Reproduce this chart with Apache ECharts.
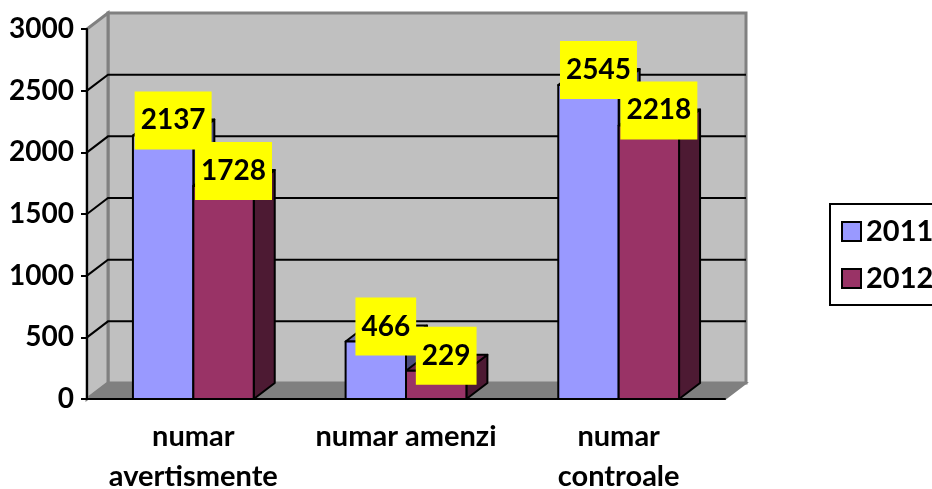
<!DOCTYPE html>
<html>
<head>
<meta charset="utf-8">
<script src="https://cdn.jsdelivr.net/npm/echarts@6/dist/echarts.min.js"></script>
<style>
  html, body { margin: 0; padding: 0; background: #fff; }
  #chart { width: 932px; height: 489px; }
</style>
</head>
<body>
<div id="chart"></div>
<script>
(function () {
  'use strict';

  // data
  var categories = ['numar\navertismente', 'numar amenzi', 'numar\ncontroale'];
  var years = ['2011', '2012'];
  var values2011 = [2137, 466, 2545];
  var values2012 = [1728, 229, 2218];
  var yTicks = [500, 1000, 1500, 2000, 2500];

  // 3d depth offset, in pixels
  var DX = 21, DY = -16;
  var FONT = 'Lato, "Open Sans", sans-serif';

  var colors = {
    '2011': { front: '#9999ff', top: '#6b6bb3', side: '#4d4d80' },
    '2012': { front: '#993366', top: '#6b2447', side: '#4d1a33' }
  };

  function barRender(year, offset) {
    var c = colors[year];
    return function (params, api) {
      var p0 = api.coord([api.value(0), 0]);
      var p1 = api.coord([api.value(0), api.value(1)]);
      var bw = api.size([1, 0])[0] * 0.284;
      var x0 = p0[0] + offset * bw;
      var x1 = x0 + bw;
      var st = { stroke: '#000', lineWidth: 2, lineJoin: 'round' };
      return {
        type: 'group',
        children: [
          { type: 'polygon', shape: { points: [[x1, p1[1]], [x1, p0[1]], [x1 + DX, p0[1] + DY], [x1 + DX, p1[1] + DY]] },
            style: Object.assign({ fill: c.side }, st) },
          { type: 'polygon', shape: { points: [[x0, p1[1]], [x1, p1[1]], [x1 + DX, p1[1] + DY], [x0 + DX, p1[1] + DY]] },
            style: Object.assign({ fill: c.top }, st) },
          { type: 'rect', shape: { x: x0, y: p1[1], width: bw, height: p0[1] - p1[1] },
            style: Object.assign({ fill: c.front }, st) }
        ]
      };
    };
  }

  function labelRender(params, api) {
    var off = api.value(2);
    var p = api.coord([api.value(0), api.value(1)]);
    var bw = api.size([1, 0])[0] * 0.284;
    var cx = p[0] + off * bw + bw / 2 + 10;
    return {
      type: 'text',
      style: {
        x: cx, y: p[1] - 15,
        text: String(api.value(1)),
        align: 'center', verticalAlign: 'middle',
        font: 'bold 28px ' + FONT,
        fill: '#000',
        backgroundColor: '#ffff00',
        padding: [15, 6]
      }
    };
  }

  function wallsRender(params) {
    var cs = params.coordSys;
    var l = cs.x, r = cs.x + cs.width, t = cs.y, b = cs.y + cs.height;
    var gray = '#808080';
    return {
      type: 'group',
      children: [
        { type: 'rect', shape: { x: l + DX, y: t + DY, width: r - l, height: b - t },
          style: { fill: '#c0c0c0', stroke: gray, lineWidth: 3 } },
        { type: 'polygon', shape: { points: [[l, b], [l, t], [l + DX, t + DY], [l + DX, b + DY]] },
          style: { fill: '#c0c0c0', stroke: gray, lineWidth: 3 } },
        { type: 'polygon', shape: { points: [[l, b], [r, b], [r + DX, b + DY], [l + DX, b + DY]] },
          style: { fill: gray, stroke: gray, lineWidth: 2 } }
      ]
    };
  }

  function gridRender(params, api) {
    var cs = params.coordSys;
    var p = api.coord([0, api.value(0)]);
    var l = cs.x, r = cs.x + cs.width, y = p[1];
    return {
      type: 'polyline',
      shape: { points: [[l, y], [l + DX, y + DY], [r + DX, y + DY]] },
      style: { stroke: '#000', lineWidth: 2, fill: null }
    };
  }

  var labelData = [];
  values2011.forEach(function (v, i) { labelData.push([i, v, -1]); });
  values2012.forEach(function (v, i) { labelData.push([i, v, 0]); });

  var chart = echarts.init(document.getElementById('chart'));
  chart.setOption({
    animation: false,
    backgroundColor: '#fff',
    grid: { left: 87, right: 207, top: 29, bottom: 90, containLabel: false, outerBoundsMode: 'none' },
    legend: {
      orient: 'vertical',
      left: 830, top: 204,
      padding: [13, 60, 12, 11],
      itemGap: 18,
      itemWidth: 19, itemHeight: 19,
      borderColor: '#000', borderWidth: 2,
      icon: 'rect',
      textStyle: { fontFamily: FONT, fontWeight: 'bold', fontSize: 29, color: '#000', lineHeight: 28 },
      data: [
        { name: '2011', itemStyle: { color: colors['2011'].front, borderColor: '#000', borderWidth: 2 } },
        { name: '2012', itemStyle: { color: colors['2012'].front, borderColor: '#000', borderWidth: 2 } }
      ]
    },
    xAxis: {
      type: 'category',
      data: categories,
      z: 6,
      axisLine: { lineStyle: { color: '#000', width: 2 } },
      axisTick: { length: 7, lineStyle: { color: '#000', width: 2 } },
      axisLabel: { interval: 0, margin: 18, color: '#000', fontFamily: FONT, fontWeight: 'bold', fontSize: 29, lineHeight: 40 },
      splitLine: { show: false }
    },
    yAxis: {
      type: 'value',
      min: 0, max: 3000, interval: 500,
      z: 6,
      axisLine: { show: true, lineStyle: { color: '#000', width: 2 } },
      axisTick: { show: true, length: 6, lineStyle: { color: '#000', width: 2 } },
      axisLabel: { margin: 13, color: '#000', fontFamily: FONT, fontWeight: 'bold', fontSize: 28,
        formatter: function (v) { return String(v); } },
      splitLine: { show: false }
    },
    series: [
      { type: 'custom', name: 'walls', z: 1, silent: true, renderItem: wallsRender, data: [[0, 0]] },
      { type: 'custom', name: 'grid', z: 2, silent: true, renderItem: gridRender,
        encode: { y: 0 }, data: yTicks.map(function (v) { return [v]; }) },
      { type: 'custom', name: years[0], z: 3, renderItem: barRender('2011', -1),
        itemStyle: { color: colors['2011'].front },
        encode: { x: 0, y: 1 }, data: values2011.map(function (v, i) { return [i, v]; }) },
      { type: 'custom', name: years[1], z: 3, renderItem: barRender('2012', 0),
        itemStyle: { color: colors['2012'].front },
        encode: { x: 0, y: 1 }, data: values2012.map(function (v, i) { return [i, v]; }) },
      { type: 'custom', name: 'labels', z: 5, silent: true, renderItem: labelRender,
        encode: { x: 0, y: 1 }, data: labelData }
    ]
  });
})();
</script>
</body>
</html>
